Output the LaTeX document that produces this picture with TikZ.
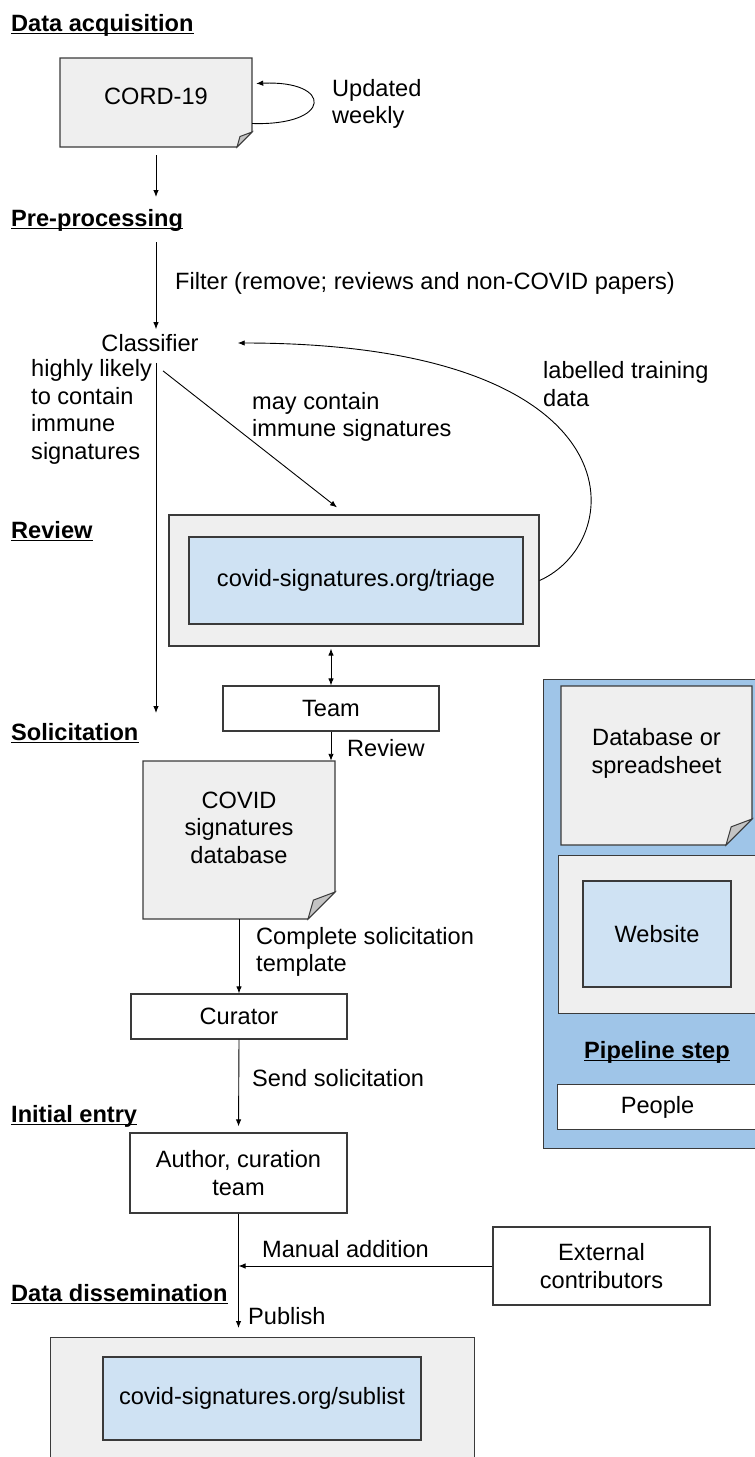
\documentclass[tikz,border=0pt]{standalone}
\usepackage{fontspec}
\setmainfont{Liberation Sans}
\usetikzlibrary{arrows.meta}
\definecolor{docgray}{HTML}{EFEFEF}
\definecolor{flapgray}{HTML}{C4C4C4}
\definecolor{webblue}{HTML}{CFE2F3}
\definecolor{legblue}{HTML}{9FC5E8}
\definecolor{edgegray}{HTML}{3A3A3A}
\newcommand{\docpage}[6]{%
	\filldraw[docline] (#2,#3) -- (#4,#3) -- (#4,#5-#6) -- (#4-#6,#5) -- (#2,#5) -- cycle;
	\filldraw[flapline] (#4,#5-#6) -- (#4-0.8*#6,#5-0.7*#6) -- (#4-#6,#5) -- cycle;
	\node[inner sep=0pt,minimum width={(#4-#2)*1pt},minimum height={(#5-#3)*1pt}] (#1) at ({(#2+#4)/2},{(#3+#5)/2}) {};
}

\begin{document}
\begin{tikzpicture}[x=1pt,y=-1pt,>={Latex[length=7pt,width=5.5pt]},
	every node/.style={font=\fontsize{23.6}{27.5}\selectfont},
	head/.style={font=\fontsize{23.6}{27.5}\selectfont\bfseries,inner sep=0pt,anchor=base west},
	uline/.style={line width=1.8pt},
	lbl/.style={anchor=west,inner sep=0pt,align=left},
	docline/.style={draw=edgegray,fill=docgray,line width=1.2pt},
	flapline/.style={draw=edgegray,fill=flapgray,line width=1pt},
	doctext/.style={inner sep=0pt,align=center},
	webouter/.style={draw=edgegray,fill=docgray,line width=1.2pt,inner sep=0pt},
	webinner/.style={draw=edgegray,fill=webblue,line width=1.2pt,inner sep=0pt},
	people/.style={draw=edgegray,fill=white,line width=1.2pt,inner sep=0pt,align=center},
	arr/.style={->,line width=0.9pt},
	darr/.style={<->,line width=0.9pt}]
	\useasboundingbox (0,0) rectangle (755,1457);
	\clip (0,0) rectangle (755,1457);
	\node[head] (acq) at (11,31) {Data acquisition};
	\node[head] (pre) at (11,226) {Pre-processing};
	\node[head] (rev) at (11,538) {Review};
	\node[head] (sol) at (11,740) {Solicitation};
	\node[head] (ini) at (11,1122) {Initial entry};
	\node[head] (dis) at (11,1301) {Data dissemination};
	\node[fill=legblue,draw=edgegray,line width=1.2pt,minimum width=240pt,minimum height=469pt,anchor=north west] (legend) at (543,679) {};
	\docpage{legdb}{561}{686}{752}{845}{26}
	\node[doctext] (legdbtext) at ([yshift=12pt]legdb.center) {Database or\\spreadsheet};
	\node[webouter,minimum width=198pt,minimum height=158pt,anchor=north west] (legweb) at (558,855) {};
	\node[webinner,minimum width=148pt,minimum height=106pt] (legsite) at (657,934) {Website};
	\node[head,anchor=base] (leg) at (657,1058) {Pipeline step};
	\node[people,minimum width=200pt,minimum height=45pt,anchor=north west] (legpeople) at (557,1084) {People};
	\docpage{cord}{60}{58}{252}{147}{15}
	\node[doctext] (cordtext) at ([yshift=6pt]cord.center) {CORD-19};
	\draw[arr] ([yshift=-21pt]cord.east) .. controls (333,126) and (333,80) .. ([xshift=4pt,yshift=19pt]cord.east);
	\node[lbl] (upd) at (332,104) {Updated\\weekly};
	\coordinate (preend) at (156,197);
	\draw[arr] ([yshift=-8pt]cord.south) -- (preend);
	\node[lbl] (filt) at (175,283) {Filter (remove; reviews and non-COVID papers)};
	\node[inner sep=5pt] (clf) at (150,343) {Classifier};
	\coordinate (filtstart) at (156,242);
	\draw[arr] (filtstart) -- (filtstart |- clf.north);
	\node[webouter,minimum width=370pt,minimum height=131pt] (triage) at (354,580.5) {};
	\node[webinner,minimum width=334pt,minimum height=87pt] (triagesite) at (356,580.5) {covid-signatures.org/triage};
	\coordinate (solend) at (156,713);
	\draw[arr] ([xshift=6pt,yshift=-6pt]clf.south) -- (solend);
	\draw[arr] ([xshift=13pt,yshift=-14pt]clf.south) -- ([xshift=-17pt,yshift=7pt]triage.north);
	\draw[arr] (triage.east) .. controls (630,540) and (640,343) .. ([xshift=34pt]clf.east);
	\node[lbl] (hl) at (31,412) {highly likely\\to contain\\immune\\signatures};
	\node[lbl] (may) at (252,417) {may contain\\immune signatures};
	\node[lbl] (lab) at (543,384) {labelled training\\data};
	\node[people,minimum width=216pt,minimum height=45pt] (team) at (331,708.5) {Team};
	\draw[darr] ([yshift=-2pt]team.north |- triage.south) -- (team.north);
	\docpage{db}{143}{761}{335}{919}{27}
	\node[doctext] (dbtext) at ([yshift=12.5pt]db.center) {COVID\\signatures\\database};
	\draw[arr] (team.south) -- (team.south |- db.north);
	\node[lbl] (revlbl) at (347,748) {Review};
	\node[people,minimum width=216pt,minimum height=45pt] (cur) at (239,1016.5) {Curator};
	\draw[arr] (db.south) -- (cur.north);
	\node[lbl] (complbl) at (256,952) {Complete solicitation\\template};
	\node[people,minimum width=217pt,minimum height=80pt] (auth) at (238.5,1173) {Author, curation\\team};
	\draw[arr,shorten >=6pt] (cur.south) -- (auth.north);
	\node[lbl] (sendlbl) at (252,1078) {Send solicitation};
	\node[people,minimum width=217pt,minimum height=78pt] (ext) at (601.5,1266) {External\\contributors};
	\node[webouter,minimum width=424pt,minimum height=140pt,anchor=north west] (sub) at (50,1337) {};
	\node[webinner,minimum width=318pt,minimum height=83pt] (subsite) at (262,1398.5) {covid-signatures.org/sublist};
	\draw[arr,shorten >=9pt] (auth.south) -- (auth.south |- sub.north);
	\draw[arr] (ext.west) -- (ext.west -| auth.south);
	\node[lbl] (manlbl) at (262,1249) {Manual addition};
	\node[lbl] (publbl) at (248,1316) {Publish};
	\foreach \h in {acq,pre,rev,sol,ini,dis,leg}
		\draw[uline] ([yshift=-2.5pt]\h.base west) -- ([yshift=-2.5pt]\h.base east);
\end{tikzpicture}
\end{document}
